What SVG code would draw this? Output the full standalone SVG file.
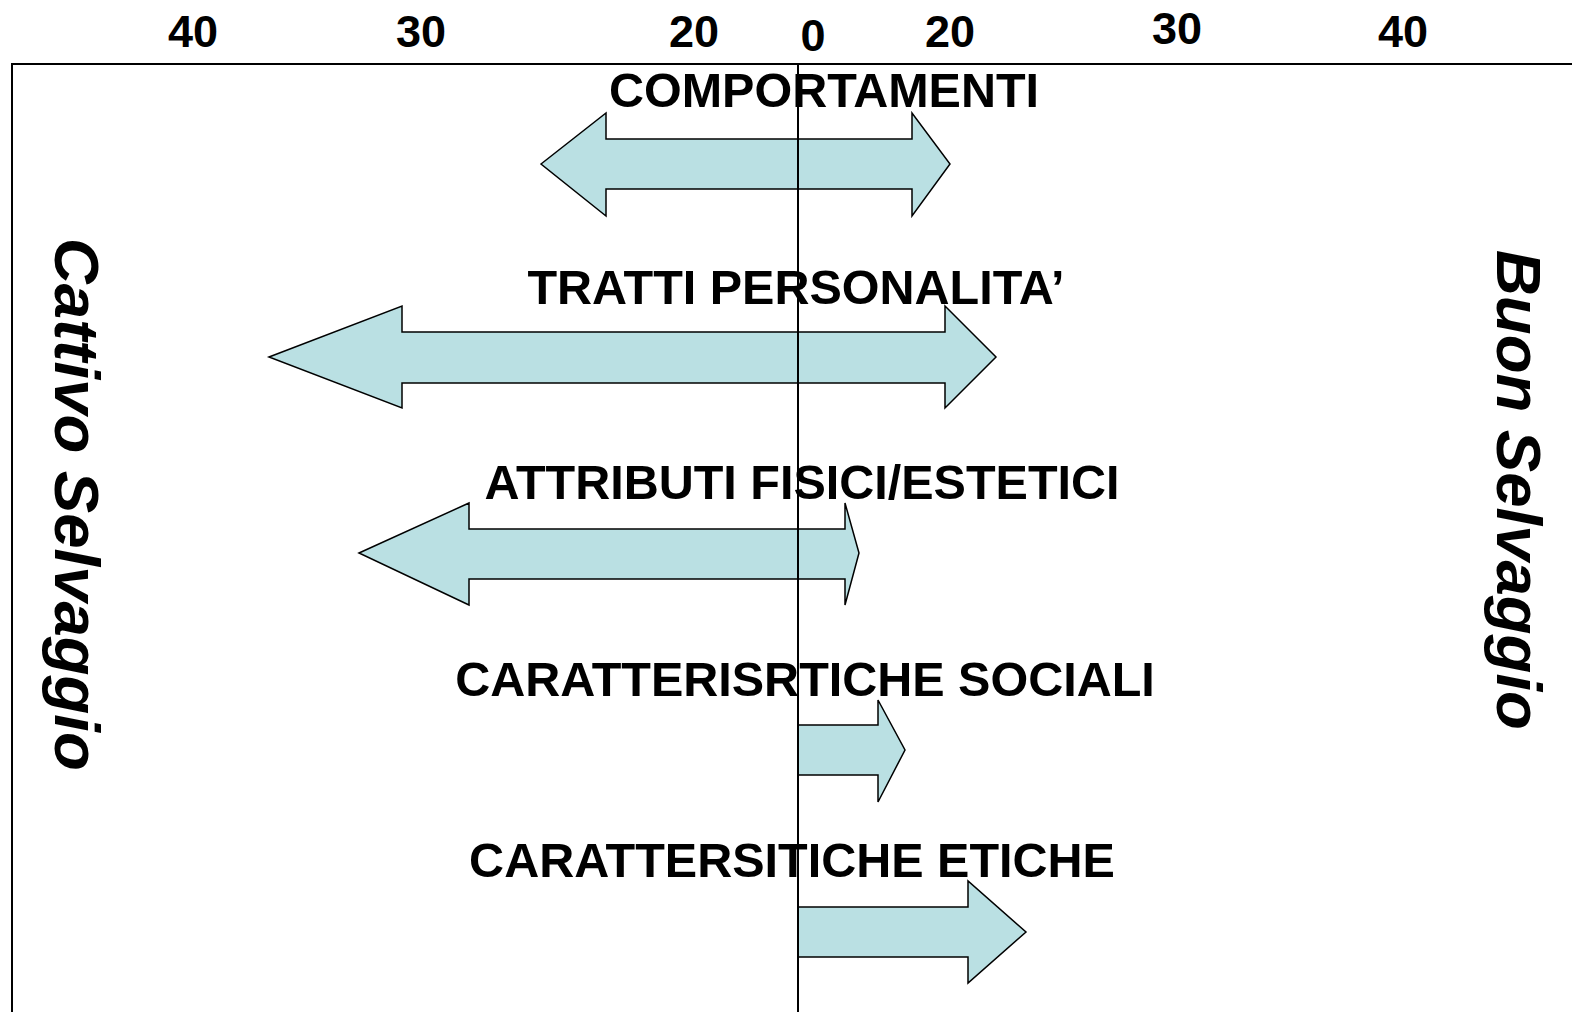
<svg xmlns="http://www.w3.org/2000/svg" width="1572" height="1012" viewBox="0 0 1572 1012">
<style>
.num{font-family:"Liberation Sans",Arial,sans-serif;font-weight:bold;font-size:45px;fill:#000;text-anchor:middle}
.lbl{font-family:"Liberation Sans",Arial,sans-serif;font-weight:bold;font-size:48.5px;fill:#000;text-anchor:middle}
.side{font-family:"Liberation Sans",Arial,sans-serif;font-weight:bold;font-style:italic;font-size:63.5px;fill:#000}
.arr{fill:#BAE0E3;stroke:#000;stroke-width:1.5;stroke-linejoin:miter}
.ax{stroke:#000;stroke-width:2;fill:none}
</style>
<rect width="1572" height="1012" fill="#fff"/>
<g id="scale">
<text class="num" x="193" y="47">40</text>
<text class="num" x="421" y="47">30</text>
<text class="num" x="694" y="47">20</text>
<text class="num" x="813" y="51">0</text>
<text class="num" x="950" y="47">20</text>
<text class="num" x="1177" y="44">30</text>
<text class="num" x="1403" y="47">40</text>
</g>
<g id="cattivo">
<text class="side" transform="translate(55,238) rotate(90)">Cattivo Selvaggio</text>
</g>
<g id="buon">
<text class="side" transform="translate(1497,250) rotate(90)">Buon Selvaggio</text>
</g>
<g id="comportamenti">
<polygon class="arr" points="541,164 606,113 606,139 912,139 912,113 950,164 912,216 912,189 606,189 606,216"/>
<text class="lbl" x="824" y="107">COMPORTAMENTI</text>
</g>
<g id="tratti">
<polygon class="arr" points="269,357 402,306 402,332 945,332 945,306 996,357 945,408 945,383 402,383 402,408"/>
<text class="lbl" x="796" y="304">TRATTI PERSONALITA’</text>
</g>
<g id="attributi">
<polygon class="arr" points="359,553 469,503 469,529 845,529 845,503 859,553 845,605 845,579 469,579 469,605"/>
<text class="lbl" x="802" y="499">ATTRIBUTI FISICI/ESTETICI</text>
</g>
<g id="sociali">
<polygon class="arr" points="798,725 878,725 878,700 905,750 878,802 878,775 798,775"/>
<text class="lbl" x="805" y="696">CARATTERISRTICHE SOCIALI</text>
</g>
<g id="etiche">
<polygon class="arr" points="798,907 968,907 968,881 1026,932 968,983 968,957 798,957"/>
<text class="lbl" x="792" y="877">CARATTERSITICHE ETICHE</text>
</g>
<g id="connectors">
<polyline class="ax" points="12,1012 12,64 1572,64"/>
<line class="ax" x1="798" y1="64" x2="798" y2="1012"/>
</g>
</svg>
